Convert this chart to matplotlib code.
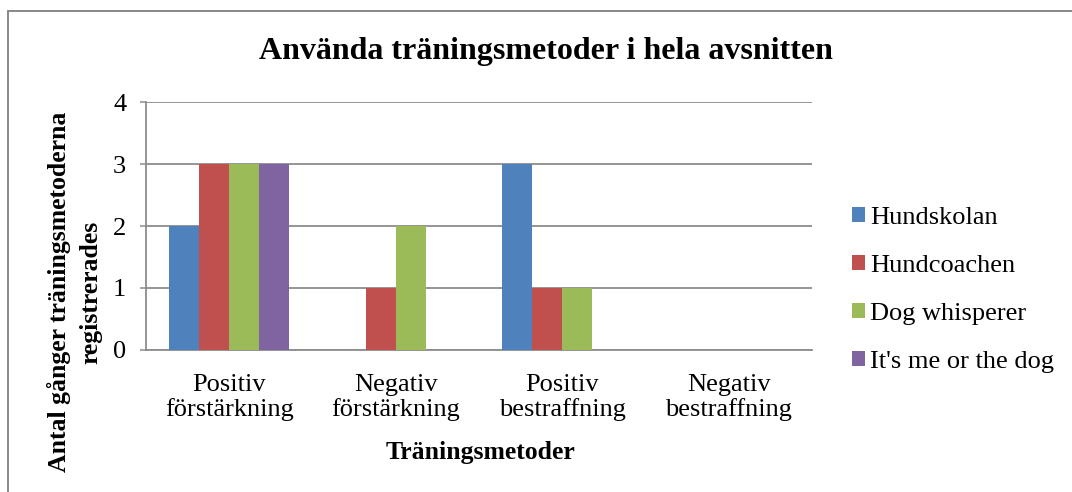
import matplotlib
matplotlib.use('Agg')
import matplotlib.pyplot as plt
import matplotlib.patches as patches
import numpy as np

# chart data
categories = ['Positiv\nförstärkning', 'Negativ\nförstärkning',
              'Positiv\nbestraffning', 'Negativ\nbestraffning']
series_names = ['Hundskolan', 'Hundcoachen', 'Dog whisperer', "It's me or the dog"]
hundskolan = [2, 0, 3, 0]
hundcoachen = [3, 1, 1, 0]
dog_whisperer = [3, 2, 1, 0]
its_me_or_the_dog = [3, 0, 0, 0]
y_ticks = [0, 1, 2, 3, 4]

colors = ['#4F81BD', '#C0504D', '#9BBB59', '#8064A2']
grid_gray = '#8C8C8C'

plt.rcParams['font.family'] = ['Liberation Serif', 'DejaVu Serif']

W, H = 1072, 492
fig = plt.figure(figsize=(W / 100, H / 100), dpi=100)
ax = fig.add_axes([146 / W, 1 - 350 / H, 666 / W, 248 / H])

x = np.arange(len(categories))
bar_w = 0.18
all_series = [hundskolan, hundcoachen, dog_whisperer, its_me_or_the_dog]
for i, (vals, name) in enumerate(zip(all_series, series_names)):
    ax.bar(x + (i - 1.5) * bar_w, vals, width=bar_w, color=colors[i],
           label=name, linewidth=0, zorder=3)

ax.set_xlim(-0.5, len(categories) - 0.5)
ax.set_ylim(0, 4)
ax.set_yticks(y_ticks)
ax.set_xticks(x)
ax.set_xticklabels(categories, fontsize=19, linespacing=1.15)
ax.tick_params(axis='x', length=0, pad=17)
ax.tick_params(axis='y', length=4.3, width=1.1, color=grid_gray, labelsize=19, pad=10)

ax.yaxis.grid(True, color=grid_gray, linewidth=1.3, zorder=0)
ax.set_axisbelow(True)
for side in ['top', 'right']:
    ax.spines[side].set_visible(False)
for side in ['left', 'bottom']:
    ax.spines[side].set_color(grid_gray)
    ax.spines[side].set_linewidth(1.3)

fig.text(546 / W, 1 - 52 / H, 'Använda träningsmetoder i hela avsnitten',
         fontsize=23, fontweight='bold', ha='center', va='center')
fig.text(480 / W, 1 - 453 / H, 'Träningsmetoder',
         fontsize=18.5, fontweight='bold', ha='center', va='center')
fig.text(75 / W, 1 - 292 / H, 'Antal gånger träningsmetoderna\nregistrerades',
         fontsize=18.5, fontweight='bold', ha='center', va='center',
         rotation=90, multialignment='center', linespacing=1.45)

ax.legend(loc='center left', bbox_to_anchor=(852 / W, 1 - 290 / H),
          bbox_transform=fig.transFigure, frameon=False, fontsize=19,
          handlelength=0.5, handleheight=0.5, handletextpad=0.2,
          labelspacing=0.98, borderpad=0, borderaxespad=0)

# outer chart border
fig.patches.append(patches.Rectangle((8 / W, -0.1), 1.0, 1 - 11 / H + 0.1,
                                     transform=fig.transFigure, fill=False,
                                     edgecolor='#888888', linewidth=1.4))

fig.savefig('out.png', dpi=100)
